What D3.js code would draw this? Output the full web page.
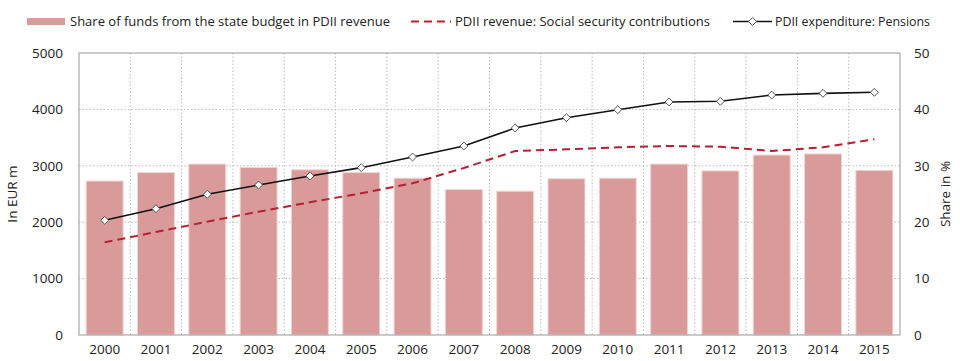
<!DOCTYPE html>
<html><head><meta charset="utf-8">
<script src="https://cdn.jsdelivr.net/npm/d3@7/dist/d3.min.js"></script>
<style>body{margin:0;background:#fff}text{font-family:"Open Sans",sans-serif;fill:#222}</style>
</head><body><svg id="c" width="960" height="361"></svg>
<script>
const years = ["2000","2001","2002","2003","2004","2005","2006","2007","2008","2009","2010","2011","2012","2013","2014","2015"];
const shareStateBudget = [27.3,28.8,30.3,29.7,29.3,28.8,27.8,25.8,25.5,27.7,27.8,30.3,29.1,31.9,32.1,29.2];
const socialContrib = [1643,1826,2009,2186,2353,2512,2690,2961,3262,3292,3328,3351,3339,3262,3328,3470];
const pensions = [2034,2240,2495,2660,2819,2967,3156,3351,3670,3853,3995,4131,4144,4255,4285,4303];
const leftTicks = [0,1000,2000,3000,4000,5000];
const rightTicks = [0,10,20,30,40,50];

const svg = d3.select("#c");
const L = 79, R = 900, T = 53, B = 335;
const x = d3.scaleBand().domain(years).range([L, R]).paddingInner(0.28).paddingOuter(0.14);
const xb = d3.scaleBand().domain(years).range([L, R]);
const yL = d3.scaleLinear().domain([0, 5000]).range([B, T]);
const yR = d3.scaleLinear().domain([0, 50]).range([B, T]);

// grid
const g = svg.append("g");
g.selectAll("line.h").data(leftTicks.slice(1, -1)).join("line")
  .attr("x1", L).attr("x2", R).attr("y1", d => yL(d)).attr("y2", d => yL(d))
  .attr("stroke", "#bbb").attr("stroke-dasharray", "1.5,2");
g.selectAll("line.v").data(years.slice(1)).join("line")
  .attr("x1", d => xb(d)).attr("x2", d => xb(d)).attr("y1", T).attr("y2", B)
  .attr("stroke", "#bbb").attr("stroke-dasharray", "1.5,2");

// bars
svg.append("g").selectAll("rect").data(years).join("rect")
  .attr("x", d => x(d)).attr("width", x.bandwidth())
  .attr("y", (d, i) => yR(shareStateBudget[i])).attr("height", (d, i) => B - yR(shareStateBudget[i]))
  .attr("fill", "#d99a9a").attr("stroke", "#f2d4d4").attr("stroke-width", 1);

// frame
svg.append("rect").attr("x", L).attr("y", T).attr("width", R - L).attr("height", B - T)
  .attr("fill", "none").attr("stroke", "#aaa").attr("stroke-width", 1.2);

const cx = d => xb(d) + xb.bandwidth() / 2;
// dashed line
svg.append("path").datum(socialContrib)
  .attr("d", d3.line().x((d, i) => cx(years[i])).y(d => yL(d)))
  .attr("fill", "none").attr("stroke", "#b52035").attr("stroke-width", 2).attr("stroke-dasharray", "8,5");
// pensions
svg.append("path").datum(pensions)
  .attr("d", d3.line().x((d, i) => cx(years[i])).y(d => yL(d)))
  .attr("fill", "none").attr("stroke", "#111").attr("stroke-width", 1.6);
const sym = d3.symbol().type(d3.symbolDiamond2).size(40);
svg.append("g").selectAll("path").data(pensions).join("path")
  .attr("transform", (d, i) => `translate(${cx(years[i])},${yL(d)})`)
  .attr("d", sym).attr("fill", "#fff").attr("stroke", "#555").attr("stroke-width", 1);

// axes
const axL = d3.axisLeft(yL).tickValues(leftTicks).tickFormat(d3.format("d")).tickSize(0).tickPadding(16);
const gl = svg.append("g").attr("transform", `translate(${L},0)`).call(axL);
const axR = d3.axisRight(yR).tickValues(rightTicks).tickFormat(d3.format("d")).tickSize(0).tickPadding(14);
const gr = svg.append("g").attr("transform", `translate(${R},0)`).call(axR);
const axB = d3.axisBottom(xb).tickSize(0).tickPadding(9);
const gb = svg.append("g").attr("transform", `translate(0,${B})`).call(axB);
[gl, gr, gb].forEach(a => { a.select(".domain").remove(); a.selectAll("text").attr("font-size", 13.5).attr("fill", "#222").attr("font-family", "Open Sans"); });

svg.append("text").attr("transform", `translate(17,${(T + B) / 2}) rotate(-90)`)
  .attr("text-anchor", "middle").attr("font-size", 13.5).text("In EUR m");
svg.append("text").attr("transform", `translate(950,${(T + B) / 2}) rotate(-90)`)
  .attr("text-anchor", "middle").attr("font-size", 13.5).text("Share in %");

// legend
const lg = svg.append("g");
lg.append("rect").attr("x", 27).attr("y", 18).attr("width", 38).attr("height", 7).attr("fill", "#d99a9a");
lg.append("text").attr("x", 70).attr("y", 26).attr("font-size", 13.5)
  .attr("textLength", 320).attr("lengthAdjust", "spacingAndGlyphs").text("Share of funds from the state budget in PDII revenue");
lg.append("line").attr("x1", 411).attr("x2", 451).attr("y1", 21.5).attr("y2", 21.5)
  .attr("stroke", "#b52035").attr("stroke-width", 2).attr("stroke-dasharray", "8,5");
lg.append("text").attr("x", 455).attr("y", 26).attr("font-size", 13.5)
  .attr("textLength", 255).attr("lengthAdjust", "spacingAndGlyphs").text("PDII revenue: Social security contributions");
lg.append("line").attr("x1", 733).attr("x2", 772).attr("y1", 21.5).attr("y2", 21.5).attr("stroke", "#111").attr("stroke-width", 1.6);
lg.append("path").attr("transform", "translate(752.5,21.5)").attr("d", sym).attr("fill", "#fff").attr("stroke", "#555");
lg.append("text").attr("x", 775).attr("y", 26).attr("font-size", 13.5)
  .attr("textLength", 155).attr("lengthAdjust", "spacingAndGlyphs").text("PDII expenditure: Pensions");
</script></body></html>
